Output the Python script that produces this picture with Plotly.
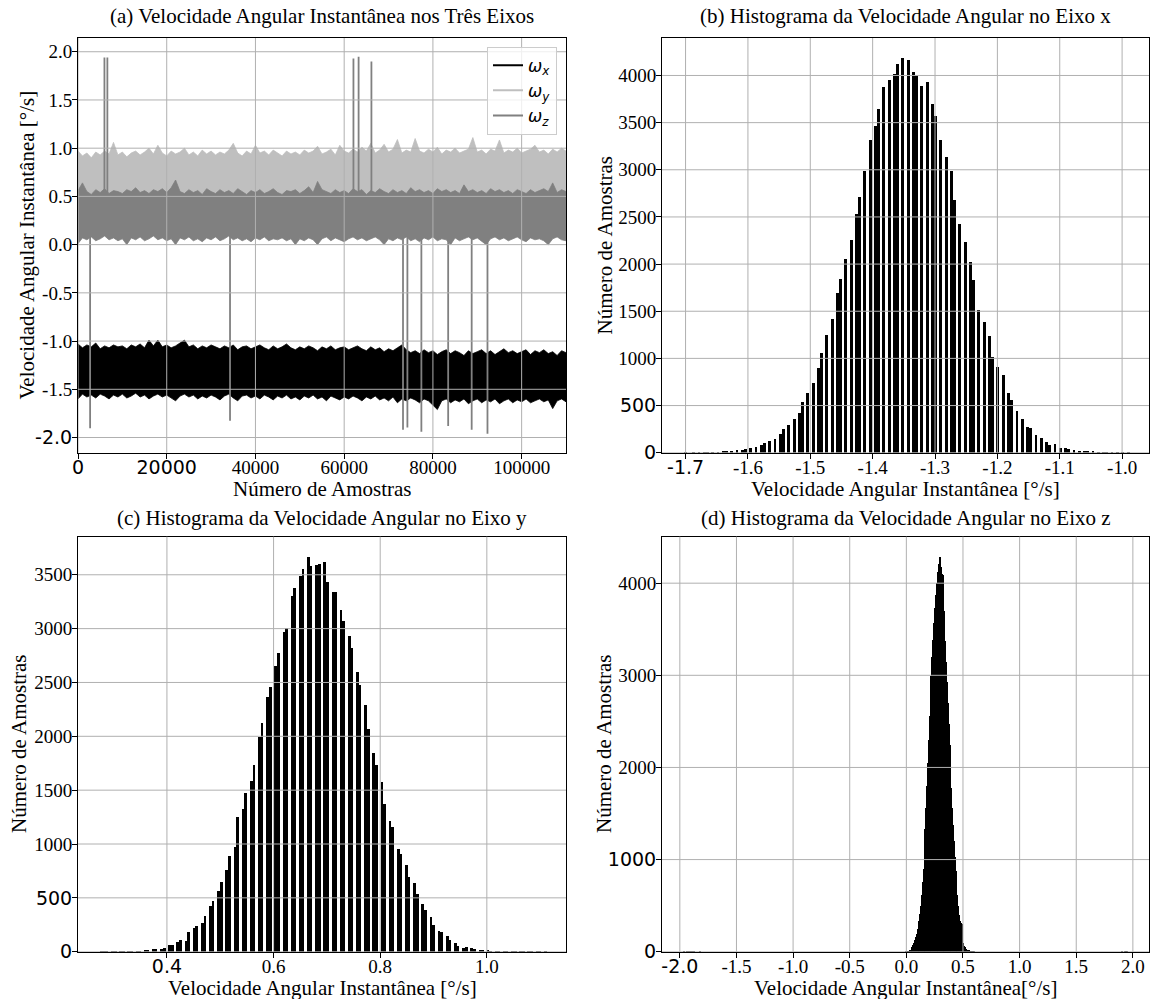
import math
import plotly.graph_objects as go

W, H = 1151, 999
SERIF = "Liberation Serif, Times New Roman, serif"
SANS = "DejaVu Sans, sans-serif"

# ------------------------------------------------------------------ data
n_samples = 110000
env_x = list(range(0, 110001, 1000))  # sample index where the band envelopes were read

wy_top = [0.97, 0.92, 0.95, 0.90, 0.96, 0.93, 0.97, 0.94, 1.06, 0.93,
          0.96, 0.91, 0.95, 0.97, 0.93, 0.96, 1.00, 0.94, 1.03, 0.95,
          0.92, 0.97, 0.94, 0.96, 1.00, 0.93, 0.96, 0.92, 0.98, 0.94,
          0.97, 0.93, 0.96, 0.94, 0.98, 1.05, 0.95, 0.92, 0.97, 0.94,
          1.03, 0.95, 0.97, 0.93, 0.98, 0.95, 0.92, 0.97, 0.94, 0.96,
          0.93, 0.98, 0.95, 0.97, 1.02, 0.94, 0.96, 0.99, 0.93, 1.03,
          0.97, 0.95, 0.99, 0.96, 1.01, 0.97, 1.05, 0.95, 0.98, 1.04,
          0.96, 0.99, 1.09, 0.95, 0.98, 0.96, 1.10, 0.97, 0.95, 0.99,
          0.96, 1.01, 0.94, 0.98, 0.96, 1.00, 0.95, 0.97, 0.99, 1.11,
          0.96, 0.98, 0.94, 0.99, 0.97, 1.085, 0.95, 0.98, 0.96, 1.00,
          0.95, 0.97, 0.99, 1.03, 0.96, 0.98, 0.94, 0.99, 0.96, 1.00, 0.97]
wy_bot_x = [0, 110000]
wy_bot = [0.43, 0.43]          # hidden behind omega_z
wz_top = [0.56, 0.64, 0.55, 0.52, 0.57, 0.54, 0.58, 0.53, 0.56, 0.55,
          0.53, 0.57, 0.55, 0.59, 0.54, 0.56, 0.53, 0.57, 0.55, 0.58,
          0.54, 0.59, 0.67, 0.55, 0.53, 0.57, 0.54, 0.56, 0.52, 0.58,
          0.55, 0.53, 0.57, 0.54, 0.56, 0.53, 0.58, 0.55, 0.52, 0.56,
          0.54, 0.57, 0.53, 0.55, 0.58, 0.54, 0.52, 0.56, 0.55, 0.57,
          0.53, 0.56, 0.60, 0.54, 0.655, 0.57, 0.55, 0.53, 0.57, 0.54,
          0.56, 0.53, 0.58, 0.55, 0.57, 0.52, 0.56, 0.54, 0.58, 0.55,
          0.53, 0.57, 0.54, 0.56, 0.53, 0.59, 0.55, 0.57, 0.54, 0.56,
          0.53, 0.58, 0.55, 0.57, 0.54, 0.56, 0.53, 0.62, 0.55, 0.57,
          0.54, 0.56, 0.53, 0.58, 0.55, 0.57, 0.54, 0.56, 0.53, 0.57,
          0.55, 0.53, 0.57, 0.54, 0.56, 0.58, 0.55, 0.64, 0.54, 0.57, 0.55]
wz_bot = [0.01, 0.07, 0.05, 0.08, 0.04, 0.06, 0.09, 0.05, 0.07, 0.04,
          0.06, 0.00, 0.07, 0.05, 0.08, 0.04, 0.06, 0.09, 0.05, 0.07,
          0.04, 0.06, 0.00, 0.07, 0.05, 0.08, 0.04, 0.06, 0.03, 0.07,
          0.05, 0.08, 0.04, 0.06, 0.09, 0.05, 0.07, 0.04, 0.06, 0.03,
          0.07, 0.05, 0.08, 0.04, 0.06, 0.05, 0.07, 0.04, 0.06, 0.00,
          0.06, 0.04, 0.07, 0.05, 0.00, 0.06, 0.08, 0.04, 0.07, 0.05,
          0.03, 0.06, 0.08, 0.05, 0.07, 0.04, 0.06, 0.08, 0.05, 0.00,
          0.06, 0.04, 0.07, 0.05, 0.08, 0.04, 0.06, 0.03, 0.07, 0.05,
          0.08, 0.04, 0.06, 0.05, 0.00, 0.07, 0.04, 0.06, 0.08, 0.05,
          0.07, 0.04, 0.00, 0.06, 0.08, 0.05, 0.07, 0.04, 0.06, 0.08,
          0.05, 0.03, 0.07, 0.05, 0.06, 0.04, 0.00, 0.06, 0.08, 0.05, 0.04]
wx_top = [-1.03, -1.07, -1.04, -1.06, -1.02, -1.08, -1.05, -1.07, -1.04, -1.06,
          -1.05, -1.08, -1.04, -1.06, -1.03, -1.07, -0.99, -1.05, -0.99, -1.06,
          -1.04, -1.07, -1.05, -1.02, -0.99, -1.06, -1.04, -1.08, -1.05, -1.07,
          -1.04, -1.06, -1.08, -1.05, -1.07, -1.04, -1.09, -1.06, -1.05, -1.08,
          -1.06, -1.04, -1.07, -1.09, -1.05, -1.08, -1.06, -1.03, -1.07, -1.09,
          -1.06, -1.08, -1.05, -1.07, -1.10, -1.06, -1.08, -1.05, -1.09, -1.07,
          -1.06, -1.09, -1.07, -1.05, -1.08, -1.10, -1.06, -1.09, -1.07, -1.11,
          -1.08, -1.10, -1.07, -1.04, -1.09, -1.12, -1.10, -1.13, -1.09, -1.12,
          -1.10, -1.14, -1.11, -1.09, -1.13, -1.10, -1.12, -1.15, -1.10, -1.13,
          -1.11, -1.09, -1.13, -1.10, -1.14, -1.11, -1.08, -1.12, -1.10, -1.13,
          -1.11, -1.09, -1.14, -1.10, -1.12, -1.09, -1.13, -1.11, -1.15, -1.10, -1.12]
wx_bot = [-1.60, -1.55, -1.58, -1.56, -1.59, -1.55, -1.57, -1.60, -1.56, -1.58,
          -1.55, -1.59, -1.57, -1.54, -1.58, -1.56, -1.60, -1.57, -1.55, -1.58,
          -1.56, -1.59, -1.62, -1.57, -1.55, -1.58, -1.56, -1.60, -1.57, -1.59,
          -1.56, -1.58, -1.61, -1.57, -1.55, -1.59, -1.62, -1.57, -1.56, -1.59,
          -1.57, -1.60, -1.56, -1.58, -1.61, -1.57, -1.59, -1.56, -1.60, -1.58,
          -1.61, -1.57, -1.59, -1.56, -1.60, -1.58, -1.62, -1.57, -1.59, -1.61,
          -1.58, -1.60, -1.57, -1.59, -1.62, -1.58, -1.60, -1.57, -1.61, -1.59,
          -1.62, -1.58, -1.64, -1.60, -1.62, -1.59, -1.61, -1.64, -1.60, -1.62,
          -1.66, -1.71, -1.62, -1.60, -1.64, -1.61, -1.63, -1.60, -1.65, -1.62,
          -1.60, -1.64, -1.61, -1.63, -1.60, -1.65, -1.62, -1.60, -1.64, -1.61,
          -1.63, -1.60, -1.64, -1.62, -1.60, -1.63, -1.61, -1.70, -1.62, -1.60, -1.63]

# isolated spikes of omega_z (sample index, value)
spike_x = [5960, 6620, 62090, 63250, 66140, 2730, 34270, 73260, 74250, 77400, 83440, 88740, 92300]
spike_y = [1.94, 1.94, 1.93, 1.947, 1.90, -1.905, -1.826, -1.92, -1.895, -1.94, -1.88, -1.92, -1.962]
wz_centre = 0.30

# gyro quantisation (131 LSB per deg/s); histogram counts per output code
LSB = 1.0 / 131.0
b_codes = list(range(-223, -129))
b_counts = [1, 0, 1, 1, 2, 3, 4, 6, 8, 11, 11, 25, 30, 35, 45, 60, 78, 99, 124, 141,
            194, 247, 290, 353, 424, 540, 636, 734, 900, 1059, 1243, 1423, 1695, 1843,
            2055, 2260, 2535, 2715, 2991, 3319, 3467, 3648, 3881, 3955, 4018, 4121, 4188,
            4167, 4040, 4000, 3893, 3930, 3700, 3573, 3319, 3132, 2991, 2684, 2429, 2239,
            2020, 1829, 1518, 1381, 1236, 1020, 904, 819, 629, 554, 441, 353, 268, 258,
            184, 152, 113, 81, 88, 50, 53, 35, 25, 18, 12, 8, 10, 6, 5, 3, 2, 1, 1, 1]
c_codes = list(range(36, 146))
c_counts = [1, 1, 1, 2, 2, 3, 3, 4, 5, 6, 8,
            12, 15, 25, 25, 25, 34, 62, 62, 90, 108, 99, 186, 226, 238, 266, 337, 424, 470,
            563, 652, 758, 887, 971, 1250, 1325,
            1475, 1586, 1732, 1994, 2127, 2365, 2458, 2659, 2777, 2975, 3009, 3310, 3380,
            3490, 3560, 3670, 3580, 3590, 3600, 3620, 3440, 3345, 3345, 3180, 3075, 2930,
            2820, 2604, 2483, 2297, 2072, 1846, 1741, 1583, 1370, 1221, 1160, 952, 912, 804,
            696, 643, 535, 442, 387, 325, 254, 195, 182, 145, 114, 87, 56, 37, 43, 37, 25,
            20, 15, 12, 8, 5, 4, 3, 3, 2, 2, 1, 1, 1, 1, 1, 1, 1]
d_codes = list(range(0, 79))
d_counts = [2, 3, 6, 10, 15, 24, 38, 55, 75, 100, 130, 165, 200, 245, 290, 340, 410, 500,
            620, 760, 900, 1100, 1330, 1560, 1800, 2050, 2300, 2560, 2790, 3000, 3200, 3390,
            3570, 3730, 3880, 4010, 4060, 4120, 4210, 4290, 4180, 4100, 4090, 4060, 3700,
            3380, 3150, 2930, 2700, 2480, 2250, 2010, 1780, 1560, 1380, 1200, 1030, 880, 760,
            620, 500, 400, 340, 320, 300, 200, 100, 70, 50, 35, 25, 18, 12, 8, 6, 4, 3, 2, 1]
N_BINS_XY = 163

# ticks
a_xticks = [0, 20000, 40000, 60000, 80000, 100000]
a_yticks = [-2.0, -1.5, -1.0, -0.5, 0.0, 0.5, 1.0, 1.5, 2.0]
b_xticks = [-1.7, -1.6, -1.5, -1.4, -1.3, -1.2, -1.1, -1.0]
b_yticks = [0, 500, 1000, 1500, 2000, 2500, 3000, 3500, 4000]
c_xticks = [0.4, 0.6, 0.8, 1.0]
c_yticks = [0, 500, 1000, 1500, 2000, 2500, 3000, 3500]
d_xticks = [-2.0, -1.5, -1.0, -0.5, 0.0, 0.5, 1.0, 1.5, 2.0]
d_yticks = [0, 1000, 2000, 3000, 4000]
sans_ticks = {"a_x": [0, 20000], "a_y": [-2.0], "b_x": [-1.7], "b_y": [0, 500],
              "c_x": [0.4], "c_y": [0, 500], "d_x": [-2.0], "d_y": [0, 1000]}

COL_X, COL_Y, COL_Z = "#000000", "#bfbfbf", "#808080"
GRID = "#b0b0b0"

# ------------------------------------------------------------------ helpers
def ticktext(vals, dec, sans):
    out = []
    for v in vals:
        s = f"{v:.{dec}f}"
        if any(abs(v - t) < 1e-9 for t in sans):
            s = f'<span style="font-family:DejaVu Sans">{s}</span>'
        out.append(s)
    return out


def px_x(p):
    return p / W


def px_y(p):
    return 1 - p / H


fig = go.Figure()

# ---- (a) time series bands
def band(xt, top, xb, bot, col):
    fig.add_trace(go.Scatter(
        x=xt + xb[::-1], y=top + bot[::-1], mode="lines", fill="toself",
        fillcolor=col, line=dict(color=col, width=0.8), showlegend=False,
        hoverinfo="skip", xaxis="x", yaxis="y"))

band(env_x, wx_top, env_x, wx_bot, COL_X)
band(env_x, wy_top, wy_bot_x, wy_bot, COL_Y)
band(env_x, wz_top, env_x, wz_bot, COL_Z)

sx, sy = [], []
for xv, yv in zip(spike_x, spike_y):
    sx += [xv, xv, None]
    sy += [wz_centre, yv, None]
fig.add_trace(go.Scatter(x=sx, y=sy, mode="lines", line=dict(color=COL_Z, width=1.8),
                         showlegend=False, hoverinfo="skip", xaxis="x", yaxis="y"))

for name, col in [("<i>ω</i><sub><i>x</i></sub>", COL_X),
                  ("<i>ω</i><sub><i>y</i></sub>", COL_Y),
                  ("<i>ω</i><sub><i>z</i></sub>", COL_Z)]:
    fig.add_trace(go.Scatter(x=[None], y=[None], mode="lines", name=name,
                             line=dict(color=col, width=2), xaxis="x", yaxis="y"))

# ---- histograms
def hist(codes, counts, nbins, ax, ay):
    xs = [k * LSB for k in codes]
    lo, hi = min(xs), max(xs)
    size = (hi - lo) / nbins
    fig.add_trace(go.Histogram(
        x=xs, y=counts, histfunc="sum",
        xbins=dict(start=lo - 1e-9, end=hi + size, size=size),
        marker=dict(color="black", line=dict(width=0)), showlegend=False,
        xaxis=ax, yaxis=ay))
    r = hi - lo
    return [lo - 0.05 * r, hi + 0.05 * r], [0, 1.05 * max(counts)]

b_xr, b_yr = hist(b_codes, b_counts, N_BINS_XY, "x2", "y2")
c_xr, c_yr = hist(c_codes, c_counts, N_BINS_XY, "x3", "y3")

d_x = [k * LSB for k in d_codes] + spike_y
d_y = d_counts + [1] * len(spike_y)
d_lo = (math.floor(min(d_x) / LSB) - 0.5) * LSB
fig.add_trace(go.Histogram(
    x=d_x, y=d_y, histfunc="sum",
    xbins=dict(start=d_lo, end=max(d_x) + LSB, size=LSB),
    marker=dict(color="black", line=dict(width=0)), showlegend=False,
    xaxis="x4", yaxis="y4"))
d_r = max(d_x) - min(d_x)
d_xr = [min(d_x) - 0.05 * d_r, max(d_x) + 0.05 * d_r]
d_yr = [0, 1.05 * max(d_counts)]

a_all = wx_bot + wz_top + wy_top + spike_y
a_r = max(a_all) - min(a_all)
a_yr = [min(a_all) - 0.05 * a_r, max(a_all) + 0.05 * a_r]

# ------------------------------------------------------------------ layout
TICKF = dict(family=SERIF, size=19, color="black")
LEFT = [px_x(78), px_x(566)]
RIGHT = [px_x(662), px_x(1149)]
TOP = [px_y(452.7), px_y(38)]
BOT = [px_y(951.7), px_y(536.7)]


def axis(domain, rng, tickvals, text, anchor, standoff):
    return dict(domain=domain, range=rng, tickvals=tickvals, ticktext=text,
                showgrid=False, zeroline=False, showline=True, mirror=True,
                linecolor="black", linewidth=1, ticks="outside", ticklen=5,
                tickwidth=1, tickcolor="black", tickfont=TICKF, anchor=anchor,
                layer="above traces", fixedrange=True, ticklabeloverflow="allow",
                ticklabelstandoff=standoff)


XS, YS = -8, -4
layout = dict(
    width=W, height=H, margin=dict(l=0, r=0, t=0, b=0),
    paper_bgcolor="white", plot_bgcolor="white", bargap=0, template="none",
    font=dict(family=SERIF, color="black"),
    xaxis=axis(LEFT, [0, n_samples], a_xticks, ticktext(a_xticks, 0, sans_ticks["a_x"]), "y", XS),
    yaxis=axis(TOP, a_yr, a_yticks, ticktext(a_yticks, 1, sans_ticks["a_y"]), "x", YS),
    xaxis2=axis(RIGHT, b_xr, b_xticks, ticktext(b_xticks, 1, sans_ticks["b_x"]), "y2", XS),
    yaxis2=axis(TOP, b_yr, b_yticks, ticktext(b_yticks, 0, sans_ticks["b_y"]), "x2", YS),
    xaxis3=axis(LEFT, c_xr, c_xticks, ticktext(c_xticks, 1, sans_ticks["c_x"]), "y3", XS),
    yaxis3=axis(BOT, c_yr, c_yticks, ticktext(c_yticks, 0, sans_ticks["c_y"]), "x3", YS),
    xaxis4=axis(RIGHT, d_xr, d_xticks, ticktext(d_xticks, 1, sans_ticks["d_x"]), "y4", XS),
    yaxis4=axis(BOT, d_yr, d_yticks, ticktext(d_yticks, 0, sans_ticks["d_y"]), "x4", YS),
    legend=dict(x=px_x(557), y=px_y(46.7), xanchor="right", yanchor="top",
                bgcolor="rgba(255,255,255,0.8)", bordercolor="#cccccc", borderwidth=1,
                font=dict(family=SANS, size=17, color="black"), tracegroupgap=0),
    showlegend=True,
)
fig.update_layout(**layout)

# grid lines drawn above the data (as in the reference)
shapes = []
for xr, yr, xt, yt in [("x", "y", a_xticks, a_yticks), ("x2", "y2", b_xticks, b_yticks),
                       ("x3", "y3", c_xticks, c_yticks), ("x4", "y4", d_xticks, d_yticks)]:
    for v in xt:
        shapes.append(dict(type="line", xref=xr, yref=yr + " domain", x0=v, x1=v, y0=0, y1=1,
                           line=dict(color=GRID, width=1), layer="above"))
    for v in yt:
        shapes.append(dict(type="line", xref=xr + " domain", yref=yr, x0=0, x1=1, y0=v, y1=v,
                           line=dict(color=GRID, width=1), layer="above"))
fig.update_layout(shapes=shapes)

# titles and axis labels
anns = []
def ann(text, x, y, size=21, angle=0):
    anns.append(dict(text=text, x=px_x(x), y=px_y(y), xref="paper", yref="paper",
                     showarrow=False, xanchor="center", yanchor="middle", textangle=angle,
                     font=dict(family=SERIF, size=size, color="black")))

ann("(a) Velocidade Angular Instantânea nos Três Eixos", 322, 16)
ann("(b) Histograma da Velocidade Angular no Eixo x", 905.5, 16)
ann("(c) Histograma da Velocidade Angular no Eixo y", 322, 518)
ann("(d) Histograma da Velocidade Angular no Eixo z", 905.5, 518)
ann("Número de Amostras", 322, 489)
ann("Velocidade Angular Instantânea [°/s]", 905.5, 489)
ann("Velocidade Angular Instantânea [°/s]", 322, 988)
ann("Velocidade Angular Instantânea[°/s]", 905.5, 988)
ann("Velocidade Angular Instantânea [°/s]", 27, 245.5, angle=-90)
ann("Número de Amostras", 605, 245.5, angle=-90)
ann("Número de Amostras", 19, 744, angle=-90)
ann("Número de Amostras", 604, 744, angle=-90)
fig.update_layout(annotations=anns)

fig.write_html("out.html", config={"displayModeBar": False},
               post_script="document.body.style.margin='0';document.body.style.padding='0';"
                           "document.documentElement.style.overflow='hidden';")
